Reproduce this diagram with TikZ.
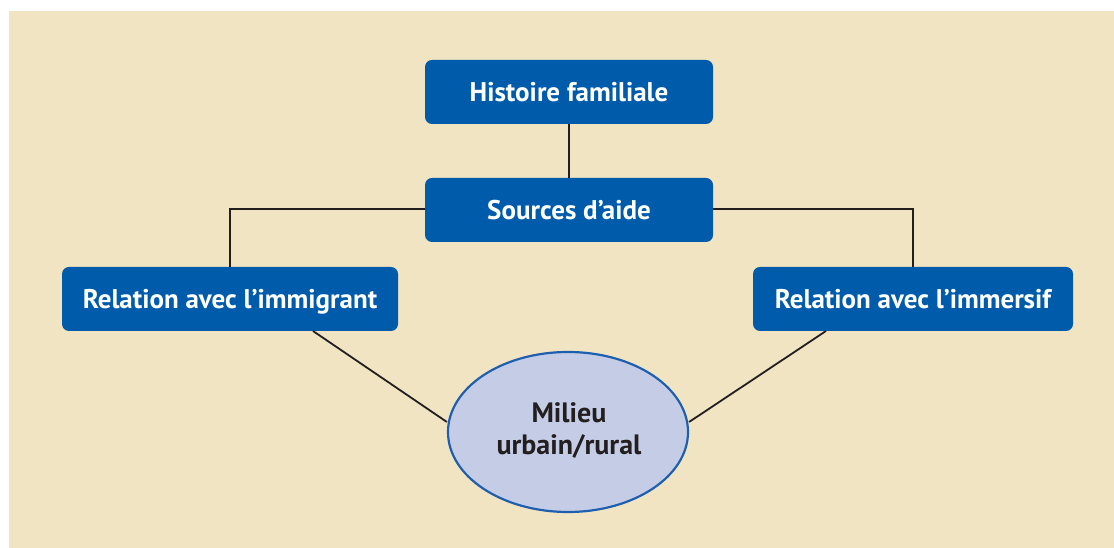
\documentclass[tikz,border=0pt]{standalone}
\usepackage{fontspec}
\setmainfont{PT Sans}
\usetikzlibrary{shapes.geometric}
\definecolor{bg}{HTML}{F1E4C3}
\definecolor{boxblue}{HTML}{005BAA}
\definecolor{ellfill}{HTML}{C5CDE6}
\definecolor{ellline}{HTML}{1F5FAF}
\definecolor{txtdark}{HTML}{231F20}
\tikzset{
  bluebox/.style={draw=none, fill=boxblue, rounded corners=7pt, text=white, font=\bfseries\fontsize{27}{32}\selectfont, inner sep=0pt, text height=19pt, text depth=0pt, anchor=center},
  conn/.style={draw=txtdark, line width=1.8pt},
  ellnode/.style={ellipse, draw=ellline, line width=2.2pt, fill=ellfill, text=txtdark, inner sep=0pt, minimum width=240pt, minimum height=160pt},
  elltext/.style={text=txtdark, font=\bfseries\fontsize{28}{32}\selectfont, align=center}
}
\begin{document}
\begin{tikzpicture}[x=1pt,y=1pt]
\useasboundingbox (0,0) rectangle (1114,548);
\fill[bg] (9,0) rectangle (1114,537);
\node[bluebox, minimum width=288pt, minimum height=64pt] (hist) at (569,456) {Histoire familiale};
\node[bluebox, minimum width=288pt, minimum height=64pt] (src) at (569,338) {Sources d’aide};
\node[bluebox, minimum width=336pt, minimum height=64pt] (immig) at (230,249) {Relation avec l’immigrant};
\node[bluebox, minimum width=320pt, minimum height=64pt] (immer) at (913,249) {Relation avec l’immersif};
\node[ellnode] (mil) at (568,116) {};
\node[elltext, anchor=base] (mil1) at (569,125) {Milieu};
\node[elltext, anchor=base] (mil2) at (569,93) {urbain/rural};
\draw[conn] (hist.south) -- (src.north);
\draw[conn] (src.west |- 0,339) -| (immig.north);
\draw[conn] (src.east |- 0,339) -| (immer.north);
\draw[conn] (313,217) -- (mil.west |- 0,126) ;
\draw[conn] (826,217) -- (mil.east |- 0,126);
\end{tikzpicture}
\end{document}
